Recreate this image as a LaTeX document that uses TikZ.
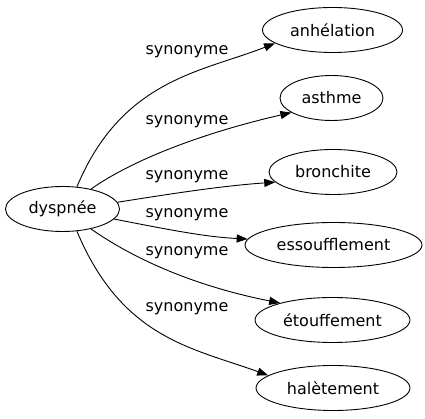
\documentclass[tikz,border=0pt]{standalone}
\usepackage{fontspec}
\setmainfont{DejaVu Sans}
\usetikzlibrary{shapes.geometric,arrows.meta}
\begin{document}
\begin{tikzpicture}[x=1pt,y=1pt,
  term/.style={draw,ellipse,line width=0.9pt,inner sep=0pt,minimum height=45pt,font=\fontsize{16}{19}\selectfont},
  rel/.style={draw,line width=0.9pt,-{Triangle[length=11pt,width=8pt]}},
  lab/.style={font=\fontsize{16}{19}\selectfont,inner sep=0pt}]
\path[use as bounding box] (0,0) rectangle (425,419);
\node[term,minimum width=114pt] (dys) at (62.5,210) {dyspnée};
\node[term,minimum width=140pt] (anh) at (332.5,389) {anhélation};
\node[term,minimum width=103pt] (ast) at (331.5,321) {asthme};
\node[term,minimum width=128pt] (bro) at (333,247) {bronchite};
\node[term,minimum width=177pt] (ess) at (333.5,174) {essoufflement};
\node[term,minimum width=155pt] (eto) at (332.5,99) {étouffement};
\node[term,minimum width=154pt] (hal) at (333,31) {halètement};
\draw[rel] (dys.57) .. controls (122,340) and (202,347) .. (anh.193);
\draw[rel] (dys.35) .. controls (144,267) and (228,292) .. (ast.200);
\draw[rel] (dys.7) .. controls (170,225) and (220,233) .. (bro.190);
\draw[rel] (dys.-11) .. controls (165,190) and (205,182) .. (ess.176);
\draw[rel] (dys.-35) .. controls (144,153) and (209,130) .. (eto.162);
\draw[rel] (dys.-57) .. controls (122,80) and (193,71) .. (hal.169);
\node[lab] (l1) at (187,367) {synonyme};
\node[lab] (l2) at (187,297) {synonyme};
\node[lab] (l3) at (187,242) {synonyme};
\node[lab] (l4) at (187,204) {synonyme};
\node[lab] (l5) at (187,166) {synonyme};
\node[lab] (l6) at (187,110) {synonyme};
\end{tikzpicture}
\end{document}
